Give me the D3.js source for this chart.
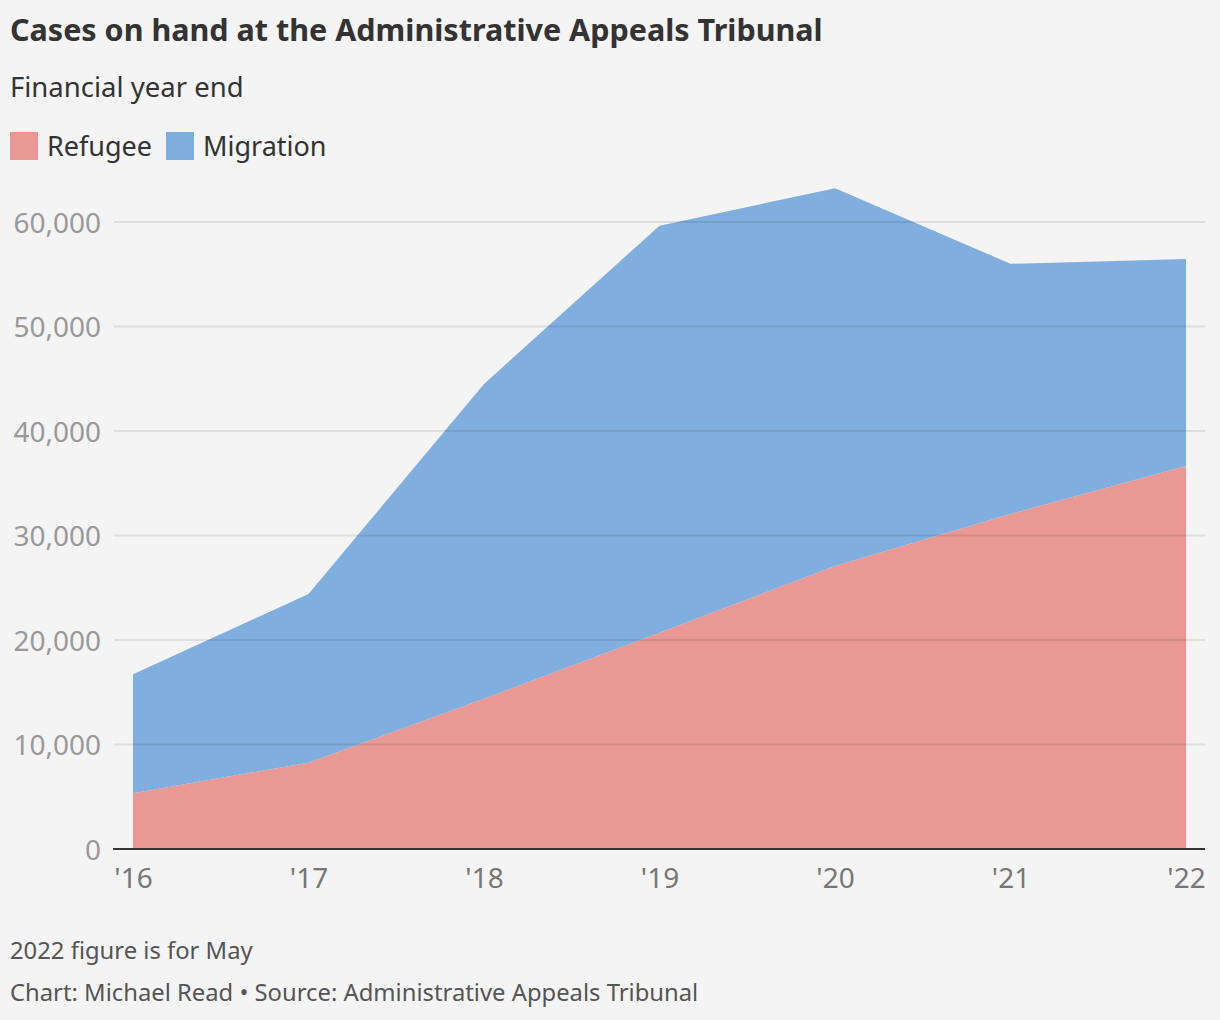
<!DOCTYPE html>
<html><head><meta charset="utf-8">
<script src="https://cdn.jsdelivr.net/npm/d3@7"></script>
<style>
html,body{margin:0;padding:0;background:#f4f4f4;}
svg{display:block;}
text{font-family:"Noto Sans",sans-serif;}
</style></head>
<body>
<svg id="chart" width="1220" height="1020"></svg>
<script>
const years = ["'16","'17","'18","'19","'20","'21","'22"];
const refugee = [5330, 8260, 14380, 20700, 27080, 32060, 36650];
const migration = [11390, 16140, 30120, 38950, 36150, 23940, 19810];
const yTicks = [0, 10000, 20000, 30000, 40000, 50000, 60000];
const seriesNames = ["Refugee", "Migration"];
const seriesColors = ["#ea9893", "#80afdf"];

const svg = d3.select("#chart");
svg.append("rect").attr("width",1220).attr("height",1020).attr("fill","#f4f4f4");

const x = d3.scalePoint().domain(years).range([133, 1186]);
const y = d3.scaleLinear().domain([0, 60000]).range([849, 222]);

const rows = years.map((yr,i)=>({year:yr, Refugee:refugee[i], Migration:migration[i]}));
const stack = d3.stack().keys(seriesNames)(rows);
const area = d3.area().x(d=>x(d.data.year)).y0(d=>y(d[0])).y1(d=>y(d[1]));

svg.append("g").selectAll("path").data(stack).join("path")
  .attr("d", area).attr("fill",(d,i)=>seriesColors[i]);

const yAxis = d3.axisLeft(y).tickValues(yTicks).tickFormat(d3.format(",")).tickSize(0).tickPadding(0);
const gy = svg.append("g").attr("transform","translate(101,0)").call(yAxis);
gy.select(".domain").remove();
gy.selectAll("text").attr("font-size",28).attr("fill","#999").attr("dy","0.36em").attr("x",0)
  .style("font-family","'Noto Sans',sans-serif");
svg.append("g").selectAll("line").data(yTicks.filter(t=>t>0)).join("line")
  .attr("x1",114).attr("x2",1205).attr("y1",d=>y(d)).attr("y2",d=>y(d))
  .attr("stroke","rgba(0,0,0,0.09)").attr("stroke-width",2);

svg.append("line").attr("x1",113).attr("x2",1205).attr("y1",y(0)).attr("y2",y(0))
  .attr("stroke","#333").attr("stroke-width",2);

const xAxis = d3.axisBottom(x).tickSize(0).tickPadding(0);
const gx = svg.append("g").attr("transform","translate(0,849)").call(xAxis);
gx.select(".domain").remove();
gx.selectAll("text").attr("font-size",28).attr("fill","#777").attr("y",39).attr("dy",0)
  .style("font-family","'Noto Sans',sans-serif");

svg.append("text").attr("x",10).attr("y",41).text("Cases on hand at the Administrative Appeals Tribunal")
  .attr("font-size",30.5).attr("font-weight","bold").attr("fill","#333");
svg.append("text").attr("x",10).attr("y",97).text("Financial year end")
  .attr("font-size",27.5).attr("fill","#333");

const leg = svg.append("g");
const legX = [10, 166];
seriesNames.forEach((n,i)=>{
  leg.append("rect").attr("x",legX[i]).attr("y",132).attr("width",28).attr("height",28).attr("fill",seriesColors[i]);
  leg.append("text").attr("x",legX[i]+37).attr("y",156).text(n).attr("font-size",27).attr("fill","#333");
});

svg.append("text").attr("x",10).attr("y",959).text("2022 figure is for May")
  .attr("font-size",23.8).attr("fill","#555");
svg.append("text").attr("x",10).attr("y",1001).text("Chart: Michael Read • Source: Administrative Appeals Tribunal")
  .attr("font-size",23.8).attr("fill","#555");
</script>
</body></html>
